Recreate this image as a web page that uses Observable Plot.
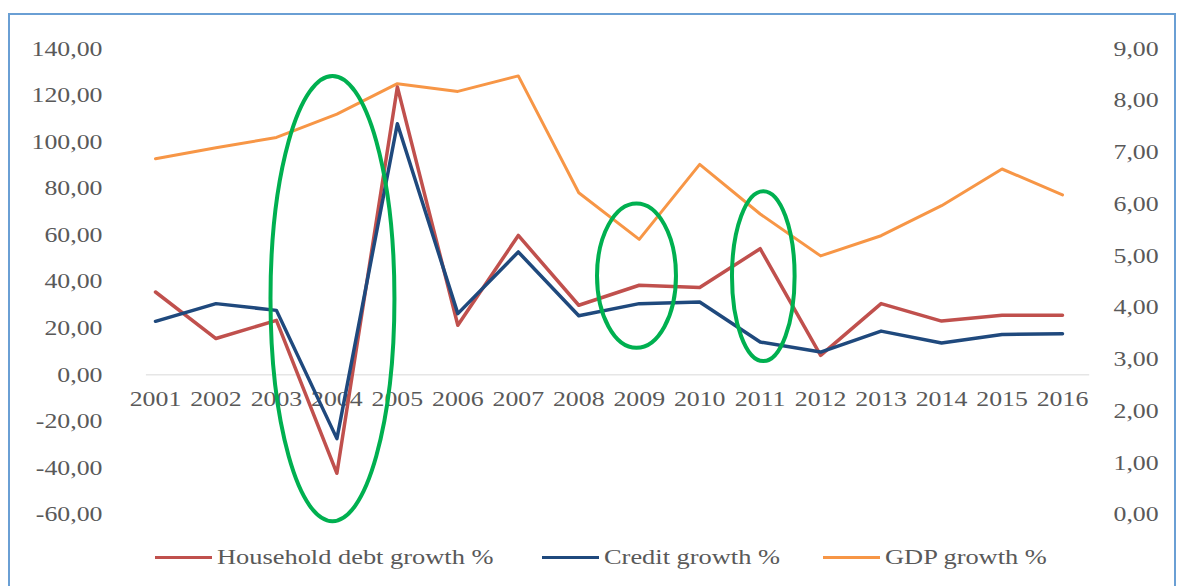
<!DOCTYPE html>
<html>
<head>
<meta charset="utf-8">
<script src="https://cdn.jsdelivr.net/npm/d3@7"></script>
<script src="https://cdn.jsdelivr.net/npm/@observablehq/plot@0.6"></script>
<style>
  html, body { margin: 0; padding: 0; background: #fff; overflow: hidden; }
  #wrap { position: relative; width: 1178px; height: 586px; }
  #chart svg { display: block; }
  #frame { position: absolute; left: 8px; top: 13px; width: 1168px; height: 640px;
           border: 2px solid #6A9FD4; pointer-events: none; box-sizing: border-box; }
  #legend { position: absolute; left: 0; top: 540px; width: 1178px; height: 46px; }
  .item { position: absolute; top: 0; height: 34px; display: flex; align-items: center; }
  .sw { display: inline-block; width: 57px; height: 3px; margin-right: 5px; }
  .lbl { display: inline-block; font-family: "Liberation Serif", serif; font-size: 22px;
         color: #595959; transform: scaleX(1.2); transform-origin: 0 50%; white-space: nowrap; }
</style>
</head>
<body>
<div id="wrap">
  <div id="chart"></div>
  <div id="legend"></div>
  <div id="frame"></div>
</div>
<script>
// ---- data ----
const years = [2001, 2002, 2003, 2004, 2005, 2006, 2007, 2008, 2009, 2010, 2011, 2012, 2013, 2014, 2015, 2016];
const householdDebtGrowth = [35.6, 15.6, 23.4, -42.3, 123.7, 21.3, 59.9, 29.9, 38.5, 37.5, 54.2, 8.4, 30.6, 23.1, 25.6, 25.6];
const creditGrowth = [23.0, 30.6, 27.7, -27.4, 107.9, 26.3, 52.8, 25.4, 30.6, 31.3, 14.1, 9.8, 18.8, 13.7, 17.3, 17.7];
const gdpGrowth = [6.88, 7.09, 7.29, 7.74, 8.33, 8.18, 8.48, 6.22, 5.32, 6.77, 5.81, 5.00, 5.39, 5.97, 6.68, 6.18];
const leftTicks = [-60, -40, -20, 0, 20, 40, 60, 80, 100, 120, 140];
const rightTicks = [0, 1, 2, 3, 4, 5, 6, 7, 8, 9];
const seriesNames = ["Household debt growth %", "Credit growth %", "GDP growth %"];
// highlight ellipses (annotation): centre year, half width in years, top / bottom on left axis
const ellipseYear = [2003.935, 2008.963, 2011.06];
const ellipseHalfWidth = [1.025, 0.653, 0.518];
const ellipseTop = [128.2, 73.4, 78.7];
const ellipseBottom = [-63.1, 11.4, 5.7];

// ---- build ----
const colors = ["#C0504D", "#1F497D", "#F79646"];
const leftDomain = [-60, 140];
const rightDomain = [0, 9];
const toLeft = d3.scaleLinear().domain(rightDomain).range(leftDomain);
const rows = years.map((y, i) => ({year: y, household: householdDebtGrowth[i], credit: creditGrowth[i], gdp: gdpGrowth[i]}));
const fmt = v => v.toFixed(2).replace(".", ",");

const W = 1178, H = 540;
const plot = Plot.plot({
  width: W, height: H,
  marginLeft: 155, marginRight: 116, marginTop: 48.5, marginBottom: H - 514,
  x: {domain: [2001, 2016], axis: null},
  y: {domain: leftDomain, axis: null},
  style: {fontFamily: "'Liberation Serif', serif", fontSize: "21px", color: "#595959", background: "transparent", overflow: "visible"},
  marks: [
    Plot.ruleY([0], {x1: 2000.85, x2: 2016.45, stroke: "#D9D9D9", strokeWidth: 1}),
    Plot.axisY(leftTicks, {anchor: "left", tickSize: 0, tickPadding: 53, tickFormat: fmt, fill: "#595959", fontSize: 21}),
    Plot.axisY(rightTicks.map(v => toLeft(v)), {anchor: "right", tickSize: 0, tickPadding: 51,
      tickFormat: v => fmt(toLeft.invert(v)), fill: "#595959", fontSize: 21}),
    Plot.text(years, {x: d => d, y: 0, dy: 24, text: d => String(d), fill: "#595959", fontSize: 21, textAnchor: "middle"}),
    Plot.line(rows, {x: "year", y: d => toLeft(d.gdp), stroke: colors[2], strokeWidth: 3, curve: "linear"}),
    Plot.line(rows, {x: "year", y: "household", stroke: colors[0], strokeWidth: 3.5}),
    Plot.line(rows, {x: "year", y: "credit", stroke: colors[1], strokeWidth: 3.5})
  ]
});
document.getElementById("chart").appendChild(plot);

// ellipses drawn with the plot's own scales
const sx = plot.scale("x"), sy = plot.scale("y");
const svg = d3.select(plot);
ellipseYear.forEach((yr, i) => {
  const cx = sx.apply(yr);
  const rx = Math.abs(sx.apply(yr + ellipseHalfWidth[i]) - cx);
  const yTop = sy.apply(ellipseTop[i]), yBot = sy.apply(ellipseBottom[i]);
  svg.append("ellipse")
    .attr("cx", cx).attr("cy", (yTop + yBot) / 2)
    .attr("rx", rx).attr("ry", Math.abs(yBot - yTop) / 2)
    .attr("fill", "none").attr("stroke", "#00B050").attr("stroke-width", 4);
});

// horizontally stretch text like the reference
const S = 1.23;
plot.querySelectorAll("text").forEach(t => {
  const b = t.getBBox();
  const a = getComputedStyle(t).textAnchor;
  const ax = a === "end" ? b.x + b.width : a === "middle" ? b.x + b.width / 2 : b.x;
  const T = t.getAttribute("transform") || "";
  t.setAttribute("transform", `${T} translate(${ax},0) scale(${S},1) translate(${-ax},0)`);
});

// legend
const legendX = [155, 542, 823];
const legend = document.getElementById("legend");
seriesNames.forEach((name, i) => {
  const item = document.createElement("div");
  item.className = "item";
  item.style.left = legendX[i] + "px";
  item.innerHTML = `<span class="sw" style="background:${colors[i]}"></span><span class="lbl">${name}</span>`;
  legend.appendChild(item);
});
</script>
</body>
</html>
